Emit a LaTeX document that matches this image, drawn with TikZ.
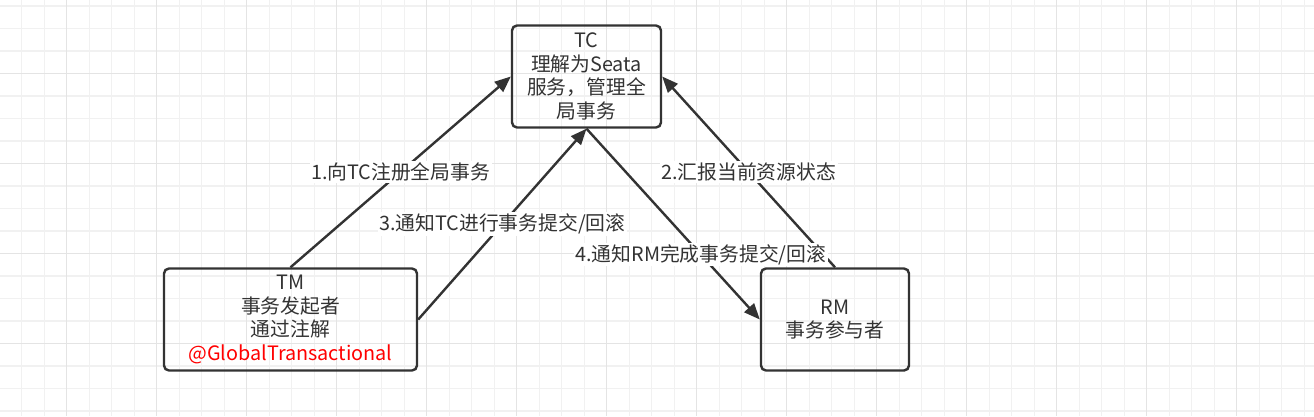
\documentclass[tikz,border=0pt]{standalone}
\usepackage{fontspec}
\setmainfont{Noto Sans CJK SC}
\usetikzlibrary{arrows.meta,positioning}
\definecolor{ink}{HTML}{333333}
\definecolor{gridminor}{HTML}{F1F1F1}
\definecolor{gridmajor}{HTML}{E4E4E4}

\begin{document}
\begin{tikzpicture}[x=1pt,y=-1pt,
box/.style={draw=ink,line width=2.4pt,rounded corners=5pt,text=ink,align=center,
    minimum height=102pt,font=\fontsize{19.8}{23.5}\selectfont},
flow/.style={draw=ink,line width=2.4pt,-{Triangle[length=16pt,width=13pt]}},
tag/.style={fill=white,text=ink,inner sep=1.5pt,font=\fontsize{19.8}{23.5}\selectfont}]
\useasboundingbox (0,0) rectangle (1314,416);
\fill[white] (0,0) rectangle (1314,416);
% background grid
\foreach \i in {0,...,57} {
  \draw[gridminor,line width=1.2pt] ({21.7+22.5*\i},0) -- ({21.7+22.5*\i},416);
}
\foreach \i in {0,...,18} {
  \draw[gridminor,line width=1.2pt] (0,{6+22.5*\i}) -- (1314,{6+22.5*\i});
}
\foreach \i in {0,...,14} {
  \draw[gridmajor,line width=1.2pt] ({66.7+90*\i},0) -- ({66.7+90*\i},416);
}
\foreach \i in {0,...,3} {
  \draw[gridmajor,line width=1.2pt] (0,{73.3+90*\i}) -- (1314,{73.3+90*\i});
}

\node (tc) [box,minimum width=149pt] at (586.5,76.5)
    {TC\\理解为Seata\\服务，管理全\\局事务};
\node (tm) [box,minimum width=253pt] at (290.5,319.5)
    {TM\\事务发起者\\通过注解\\\textcolor{red}{@GlobalTransactional}};
\node (rm) [box,minimum width=148pt] at (835,319.5)
    {RM\\事务参与者};

\draw[flow] (tm.north) -- node[tag] {1.向TC注册全局事务} (tc.west);
\draw[flow] (rm.north) -- node[tag] {2.汇报当前资源状态} (tc.east);
\draw[flow] (tm.east) -- node[tag] {3.通知TC进行事务提交/回滚} (tc.south);
\draw[flow] (tc.south) -- node[tag,pos=0.66] {4.通知RM完成事务提交/回滚} (rm.west);
\end{tikzpicture}
\end{document}
